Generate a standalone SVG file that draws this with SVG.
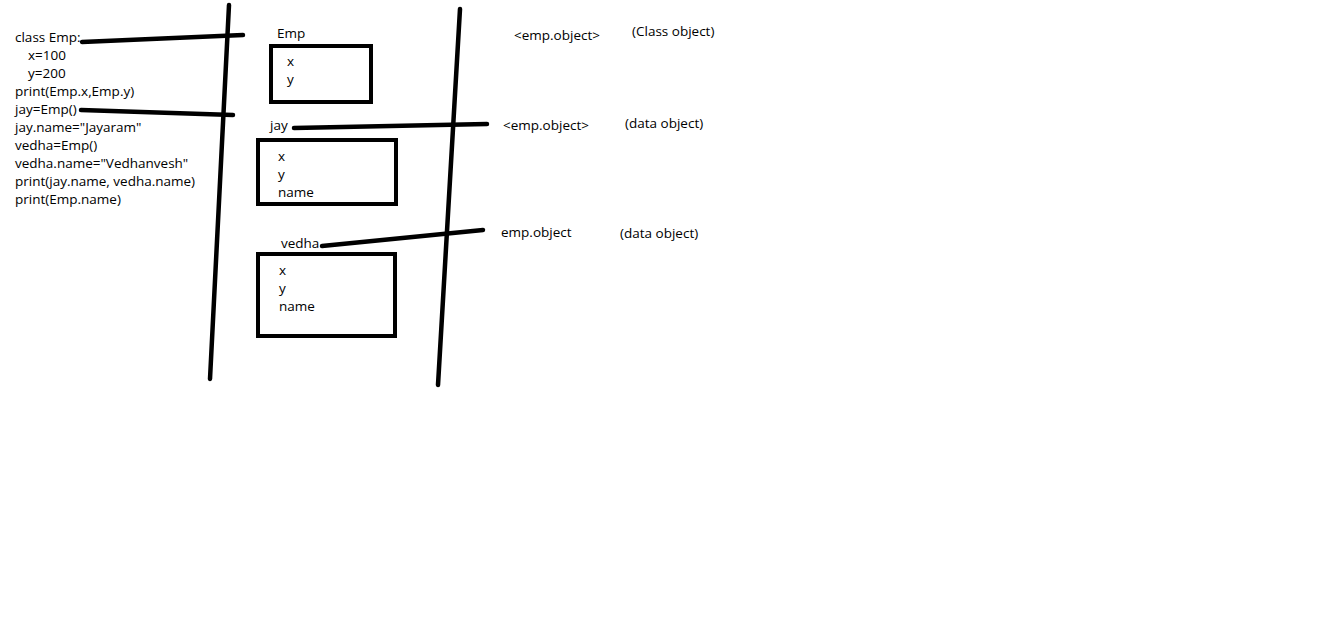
<svg xmlns="http://www.w3.org/2000/svg" width="1344" height="619" viewBox="0 0 1344 619">
<style>
text{font-family:"Open Sans","Noto Sans",sans-serif;font-size:13.5px;fill:#000}
.box{fill:none;stroke:#000;stroke-width:4}
.ln{stroke:#000;stroke-width:4.5;stroke-linecap:round;fill:none}
</style>
<rect width="1344" height="619" fill="#fff"/>
<g id="code">
<text x="15" y="42">class Emp:</text>
<text x="28" y="60">x=100</text>
<text x="28" y="78">y=200</text>
<text x="15" y="96">print(Emp.x,Emp.y)</text>
<text x="15" y="114">jay=Emp()</text>
<text x="15" y="132">jay.name="Jayaram"</text>
<text x="15" y="150">vedha=Emp()</text>
<text x="15" y="168">vedha.name="Vedhanvesh"</text>
<text x="15" y="186">print(jay.name, vedha.name)</text>
<text x="15" y="204">print(Emp.name)</text>
</g>
<g id="connectors">
<line class="ln" x1="229" y1="5" x2="210" y2="379"/>
<line class="ln" x1="460" y1="9" x2="438" y2="385"/>
<line class="ln" x1="82" y1="42" x2="243" y2="35"/>
<line class="ln" x1="81" y1="110" x2="233" y2="115"/>
<line class="ln" x1="294" y1="128" x2="487" y2="124"/>
<line class="ln" x1="322" y1="246" x2="483" y2="230"/>
</g>
<g id="emp-class">
<text x="277" y="38">Emp</text>
<rect class="box" x="271" y="46" width="100" height="56"/>
<text x="287" y="66">x</text>
<text x="287" y="84">y</text>
</g>
<g id="jay">
<text x="270" y="130">jay</text>
<rect class="box" x="258" y="140" width="138" height="64"/>
<text x="278" y="161">x</text>
<text x="278" y="179">y</text>
<text x="278" y="197">name</text>
</g>
<g id="vedha">
<text x="281" y="248">vedha</text>
<rect class="box" x="258" y="254" width="137" height="82"/>
<text x="279" y="275">x</text>
<text x="279" y="293">y</text>
<text x="279" y="311">name</text>
</g>
<g id="labels">
<text x="514" y="40">&lt;emp.object&gt;</text>
<text x="632" y="36">(Class object)</text>
<text x="503" y="130">&lt;emp.object&gt;</text>
<text x="625" y="128">(data object)</text>
<text x="501" y="237">emp.object</text>
<text x="620" y="238">(data object)</text>
</g>
</svg>
